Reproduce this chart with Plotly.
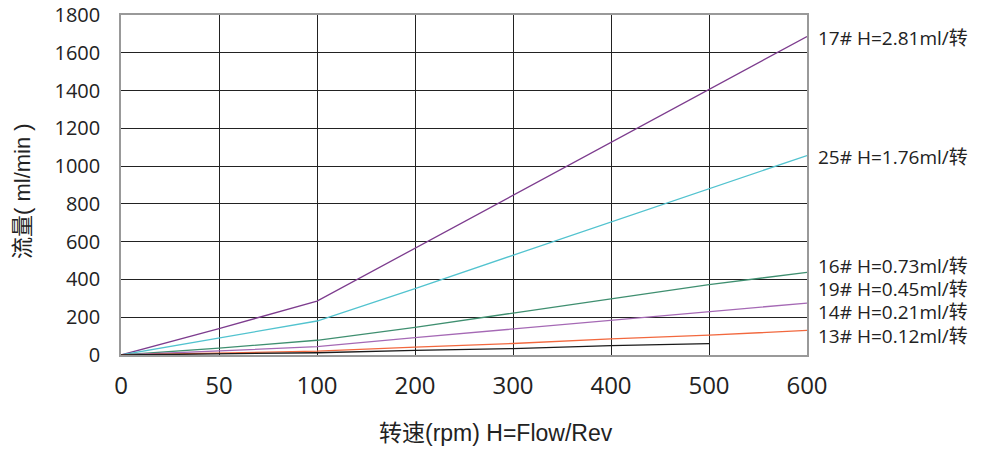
import plotly.graph_objects as go

rpm_labels = ["0", "50", "100", "200", "300", "400", "500", "600"]

s17 = [0, 140, 285, 566, 847, 1128, 1405, 1686]
s25 = [0, 88, 180, 352, 528, 704, 880, 1056]
s16 = [0, 36, 78, 146, 222, 296, 372, 438]
s19 = [0, 22, 44, 92, 137, 183, 227, 275]
s14 = [0, 10, 20, 42, 61, 85, 105, 130]
s13 = [0, 6, 12, 24, 34, 50, 60]

names = ["17# H=2.81ml/转", "25# H=1.76ml/转", "16# H=0.73ml/转",
         "19# H=0.45ml/转", "14# H=0.21ml/转", "13# H=0.12ml/转"]
series = [s17, s25, s16, s19, s14, s13]
colors = ["#7D3C8E", "#52C3CF", "#3F8F70", "#A569B5", "#F2683E", "#1A1A1A"]
label_py = [38, 157, 266, 289, 312, 336]

TICKFONT = "'Open Sans', 'Noto Sans CJK SC', sans-serif"
TITLEFONT = "'Liberation Sans', Arial, 'Noto Sans CJK SC', sans-serif"

# page body has an 8px offset; screen coords = figure coords + 8
OFF = 8
W, H = 982 - OFF, 450 - OFF
L, T = 121 - OFF, 15 - OFF
R = W - (807 - OFF)
B = H - (355 - OFF)
pw, ph = W - L - R, H - T - B

def px(sx):
    return (sx - OFF - L) / pw

def py(sy):
    return (H - B - (sy - OFF)) / ph

fig = go.Figure()
for vals, c, n in zip(series, colors, names):
    fig.add_trace(go.Scatter(x=rpm_labels[:len(vals)], y=vals, mode="lines",
                             line=dict(color=c, width=1.3), name=n,
                             showlegend=False))

for n, ly in zip(names, label_py):
    fig.add_annotation(text=n, xref="paper", yref="paper", x=px(816),
                       y=py(ly), xanchor="left", yanchor="middle",
                       showarrow=False,
                       font=dict(family=TICKFONT, size=19, color="#222"))

fig.add_annotation(text="流量( ml/min )", xref="paper", yref="paper",
                   x=px(23), y=py(191), textangle=-90,
                   showarrow=False, xanchor="center", yanchor="middle",
                   font=dict(family=TITLEFONT, size=22, color="#222"))
fig.add_annotation(text="转速(rpm) H=Flow/Rev", xref="paper", yref="paper",
                   x=px(496), y=py(433),
                   showarrow=False, xanchor="center", yanchor="middle",
                   font=dict(family=TITLEFONT, size=23, color="#222"))

fig.update_layout(
    width=W, height=H,
    margin=dict(l=L, r=R, t=T, b=B, autoexpand=False),
    plot_bgcolor="white", paper_bgcolor="white",
    font=dict(family=TICKFONT, color="#222"),
)
fig.update_xaxes(type="category", categoryorder="array", categoryarray=rpm_labels,
                 range=[0, 7], showgrid=True, gridcolor="#222", gridwidth=1,
                 showline=True, linecolor="#999", linewidth=1.5, mirror=True,
                 automargin=False, ticklabeloverflow="allow",
                 ticks="", tickfont=dict(size=24, color="#222"), ticklabelstandoff=8)
fig.update_yaxes(range=[0, 1800], tickvals=list(range(0, 1801, 200)),
                 showgrid=True, gridcolor="#222", gridwidth=1, zeroline=False,
                 showline=True, linecolor="#999", linewidth=1.5, mirror=True,
                 automargin=False, ticklabeloverflow="allow",
                 ticks="", tickfont=dict(size=20, color="#222"), ticklabelstandoff=15)

fig.write_html("out.html")
